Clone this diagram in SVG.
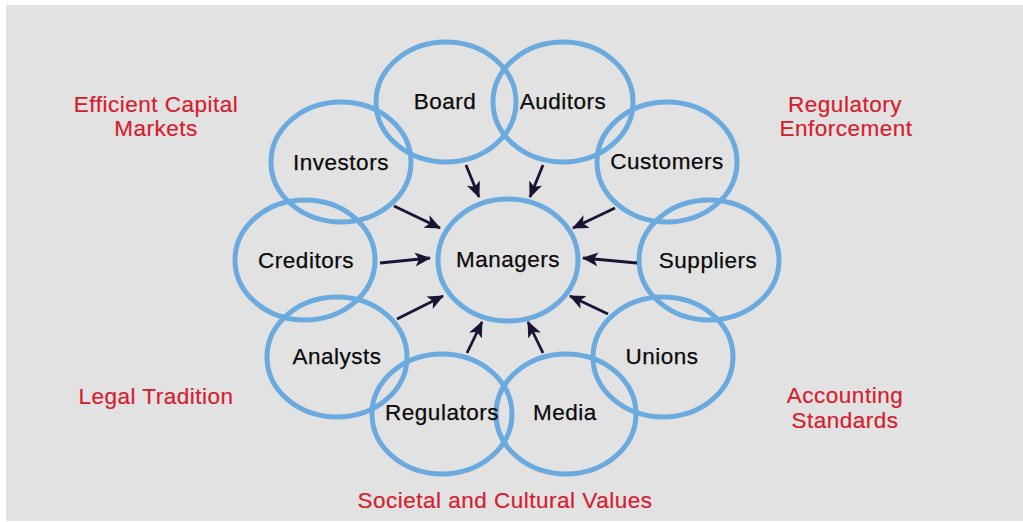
<svg xmlns="http://www.w3.org/2000/svg" width="1023" height="522" viewBox="0 0 1023 522">
  <style>
    .ring { fill: none; stroke: #6aaade; stroke-width: 5; }
    .lbl { font-family: "Liberation Sans", Arial, Helvetica, sans-serif; font-size: 22.5px; letter-spacing: 0.5px; fill: #0a0a0a; stroke: #0a0a0a; stroke-width: 0.25; text-anchor: middle; }
    .ctx { font-family: "Liberation Sans", Arial, Helvetica, sans-serif; font-size: 22.5px; letter-spacing: 0.5px; fill: #d4202e; stroke: #d4202e; stroke-width: 0.2; text-anchor: middle; }
    .arrow { stroke: #1b1333; stroke-width: 2.8; fill: none; marker-end: url(#head); }
  </style>
  <defs>
    <marker id="head" markerUnits="userSpaceOnUse" markerWidth="18" markerHeight="15" refX="15" refY="7" orient="auto">
      <path d="M0,0 L16,7 L0,14 L4,7 z" fill="#1b1333"/>
    </marker>
  </defs>

  <!-- panel -->
  <rect x="6" y="5" width="1017" height="516" fill="#e2e2e2"/>

  <!-- surrounding context labels -->
  <g id="ctx-capital-markets">
    <text class="ctx" x="156" y="112">Efficient Capital</text>
    <text class="ctx" x="156" y="136">Markets</text>
  </g>
  <g id="ctx-regulatory">
    <text class="ctx" x="845" y="112">Regulatory</text>
    <text class="ctx" x="846" y="136">Enforcement</text>
  </g>
  <g id="ctx-legal">
    <text class="ctx" x="156" y="404">Legal Tradition</text>
  </g>
  <g id="ctx-accounting">
    <text class="ctx" x="845" y="403">Accounting</text>
    <text class="ctx" x="845" y="428">Standards</text>
  </g>
  <g id="ctx-societal">
    <text class="ctx" x="505" y="508">Societal and Cultural Values</text>
  </g>

  <!-- stakeholder nodes -->
  <g id="node-board">
    <ellipse class="ring" cx="446" cy="102" rx="70" ry="60"/>
    <text class="lbl" x="445" y="109">Board</text>
  </g>
  <g id="node-auditors">
    <ellipse class="ring" cx="563" cy="102" rx="70" ry="60"/>
    <text class="lbl" x="563" y="109">Auditors</text>
  </g>
  <g id="node-investors">
    <ellipse class="ring" cx="341" cy="162" rx="70" ry="60"/>
    <text class="lbl" x="341" y="170">Investors</text>
  </g>
  <g id="node-customers">
    <ellipse class="ring" cx="667" cy="162" rx="70" ry="60"/>
    <text class="lbl" x="667" y="169">Customers</text>
  </g>
  <g id="node-creditors">
    <ellipse class="ring" cx="305" cy="260" rx="70" ry="60"/>
    <text class="lbl" x="306" y="268">Creditors</text>
  </g>
  <g id="node-suppliers">
    <ellipse class="ring" cx="709" cy="260" rx="70" ry="60"/>
    <text class="lbl" x="708" y="268">Suppliers</text>
  </g>
  <g id="node-analysts">
    <ellipse class="ring" cx="337" cy="357" rx="70" ry="60"/>
    <text class="lbl" x="337" y="364">Analysts</text>
  </g>
  <g id="node-unions">
    <ellipse class="ring" cx="663" cy="357" rx="70" ry="60"/>
    <text class="lbl" x="662" y="364">Unions</text>
  </g>
  <g id="node-media">
    <ellipse class="ring" cx="566" cy="414" rx="70" ry="60"/>
    <text class="lbl" x="565" y="420">Media</text>
  </g>
  <g id="node-regulators">
    <ellipse class="ring" cx="442" cy="414" rx="70" ry="60"/>
    <text class="lbl" x="442" y="420">Regulators</text>
  </g>
  <g id="node-managers">
    <ellipse class="ring" cx="508" cy="260" rx="70" ry="61"/>
    <text class="lbl" x="508" y="267">Managers</text>
  </g>

  <!-- influence arrows into Managers -->
  <g id="connectors">
    <line class="arrow" x1="466" y1="165" x2="479" y2="197"/>
    <line class="arrow" x1="543" y1="165" x2="530" y2="197"/>
    <line class="arrow" x1="394" y1="206" x2="440" y2="228"/>
    <line class="arrow" x1="615" y1="208" x2="573" y2="228"/>
    <line class="arrow" x1="380" y1="263" x2="430" y2="258"/>
    <line class="arrow" x1="637" y1="263" x2="583" y2="258"/>
    <line class="arrow" x1="397" y1="319" x2="443" y2="296"/>
    <line class="arrow" x1="608" y1="314" x2="570" y2="296"/>
    <line class="arrow" x1="467" y1="353" x2="482" y2="322"/>
    <line class="arrow" x1="543" y1="353" x2="528" y2="322"/>
  </g>
</svg>
